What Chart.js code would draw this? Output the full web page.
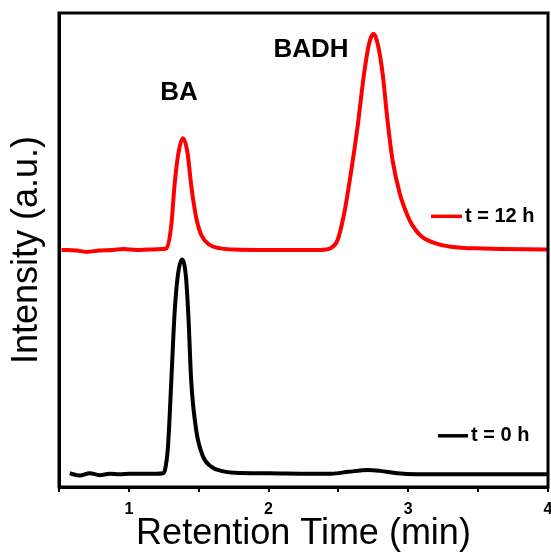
<!DOCTYPE html>
<html>
<head>
<meta charset="utf-8">
<script src="https://cdn.jsdelivr.net/npm/chart.js@4/dist/chart.umd.min.js"></script>
<style>
  html, body { margin: 0; padding: 0; background: #fff; }
  #hplc { display: block; }
</style>
</head>
<body>
<canvas id="hplc" width="551" height="555"></canvas>
<script>
// retention time (min) / intensity (a.u.)
const t0Time = [0.577, 0.649, 0.720, 0.791, 0.863, 0.934, 1.006, 1.101, 1.196, 1.244, 1.258, 1.280, 1.304, 1.327, 1.350, 1.380, 1.408, 1.427, 1.446, 1.482, 1.530, 1.589, 1.661, 1.754, 2.0, 2.3, 2.45, 2.57, 2.71, 2.80, 2.92, 3.06, 3.5, 4.0];
const t0Intensity = [2.9, 2.4, 2.9, 2.5, 2.8, 2.7, 2.8, 2.8, 2.8, 2.9, 3.5, 8.5, 22.5, 36.5, 44.5, 48.0, 44.5, 35.5, 22.5, 12.0, 6.5, 4.3, 3.4, 3.0, 2.9, 2.8, 2.8, 3.2, 3.6, 3.4, 2.9, 2.7, 2.7, 2.7];

const t12Time = [0.518, 0.625, 0.696, 0.791, 0.887, 0.959, 1.054, 1.149, 1.244, 1.270, 1.304, 1.327, 1.355, 1.387, 1.420, 1.446, 1.482, 1.518, 1.577, 1.649, 1.75, 2.0, 2.25, 2.375, 2.446, 2.494, 2.541, 2.589, 2.637, 2.684, 2.720, 2.751, 2.780, 2.816, 2.851, 2.887, 2.94, 2.994, 3.030, 3.089, 3.184, 3.304, 3.539, 3.996];
const t12Intensity = [50.0, 49.9, 49.6, 49.9, 50.0, 50.2, 50.0, 50.1, 50.2, 50.4, 55.3, 63.7, 70.5, 73.6, 70.5, 63.7, 56.8, 53.2, 51.1, 50.4, 50.1, 50.0, 50.0, 50.0, 50.4, 52.1, 57.7, 66.2, 76.0, 87.3, 93.6, 95.6, 93.6, 87.3, 77.4, 69.0, 61.8, 57.3, 55.2, 53.0, 51.5, 50.7, 50.3, 50.1];

const seriesLabels = ['t = 12 h', 't = 0 h'];
const peakNames = ['BA', 'BADH'];
const xTickValues = [1, 2, 3, 4];

const FONT = "'Liberation Sans', Arial, sans-serif";

function toPoints(xs, ys) {
    return xs.map((x, i) => ({ x: x, y: ys[i] }));
}

// frame, peak names and the little legend next to each trace
const decorPlugin = {
    id: 'decor',
    afterDraw(chart) {
        const { ctx, chartArea: a, scales } = chart;
        ctx.save();
        ctx.strokeStyle = '#000';
        ctx.lineWidth = 3;
        ctx.strokeRect(a.left, a.top, a.right - a.left, a.bottom - a.top);

        ctx.fillStyle = '#000';
        ctx.textAlign = 'center';
        ctx.textBaseline = 'middle';
        ctx.font = 'bold 26px ' + FONT;
        const peakPos = [[1.359, 83.1], [2.304, 92.2]];
        peakNames.forEach((name, i) => {
            ctx.fillText(name, scales.x.getPixelForValue(peakPos[i][0]), scales.y.getPixelForValue(peakPos[i][1]));
        });

        // legend entries: [line start offset from right, line end, text x, y value]
        const legendPos = [[-117, -86, -83, 57.1], [-110, -80, -77, 10.8]];
        ctx.font = 'bold 20px ' + FONT;
        ctx.textAlign = 'left';
        chart.data.datasets.forEach((ds, i) => {
            const p = legendPos[i];
            const y = scales.y.getPixelForValue(p[3]);
            ctx.strokeStyle = ds.borderColor;
            ctx.lineWidth = 3.5;
            ctx.beginPath();
            ctx.moveTo(a.right + p[0], y);
            ctx.lineTo(a.right + p[1], y);
            ctx.stroke();
            ctx.fillText(ds.label, a.right + p[2], y);
        });
        ctx.restore();
    }
};

new Chart(document.getElementById('hplc'), {
    type: 'scatter',
    data: {
        datasets: [
            { label: seriesLabels[0], data: toPoints(t12Time, t12Intensity), borderColor: '#ff0000', borderWidth: 4, showLine: true, pointRadius: 0, cubicInterpolationMode: 'monotone' },
            { label: seriesLabels[1], data: toPoints(t0Time, t0Intensity), borderColor: '#000000', borderWidth: 4, showLine: true, pointRadius: 0, cubicInterpolationMode: 'monotone' }
        ]
    },
    options: {
        responsive: false,
        animation: false,
        devicePixelRatio: 1,
        layout: { padding: { top: 13, right: 3, left: 0, bottom: 0 } },
        plugins: { legend: { display: false }, tooltip: { enabled: false } },
        scales: {
            x: {
                type: 'linear', min: 0.5, max: 4,
                afterFit: s => { s.height = 68; s.paddingLeft = 0; s.paddingRight = 0; },
                afterBuildTicks: s => { s.ticks = [0.5, 1, 1.5, 2, 2.5, 3, 3.5, 4].map(v => ({ value: v })); },
                ticks: {
                    autoSkip: false, maxRotation: 0, padding: 8, color: '#000',
                    font: { family: FONT, size: 16, weight: 'bold' },
                    callback: v => xTickValues.includes(v) ? String(v) : ''
                },
                grid: { drawOnChartArea: false, drawTicks: true, tickLength: 5, color: '#000', lineWidth: 2 },
                border: { display: true, color: '#000', width: 3 },
                title: { display: true, text: 'Retention Time (min)', color: '#000', font: { family: FONT, size: 36, lineHeight: 1 }, padding: { top: 0, bottom: 3 } }
            },
            y: {
                min: 0, max: 100,
                afterFit: s => { s.width = 59; },
                ticks: { display: false },
                grid: { display: false },
                border: { display: true, color: '#000', width: 3 },
                title: { display: true, text: 'Intensity (a.u.)', color: '#000', font: { family: FONT, size: 36, lineHeight: 1 }, padding: { top: 9, bottom: 0 } }
            }
        }
    },
    plugins: [decorPlugin]
});
</script>
</body>
</html>
